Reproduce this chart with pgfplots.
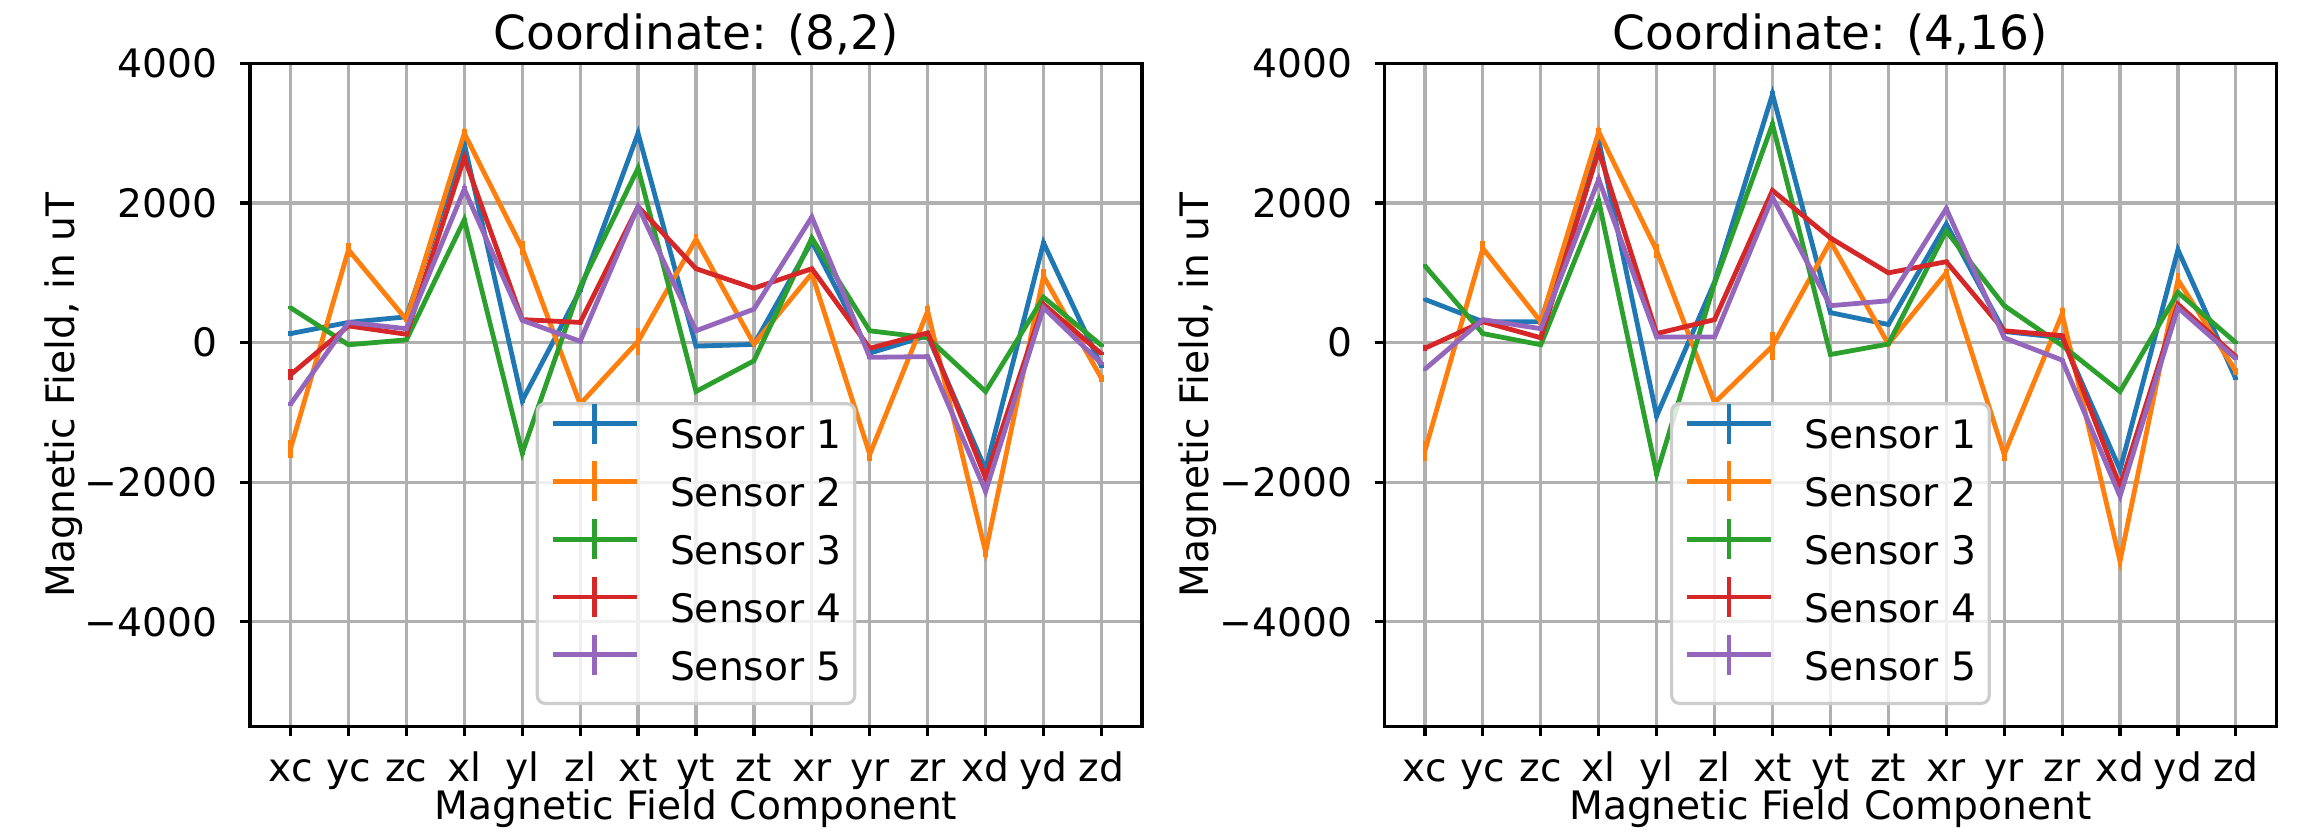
\documentclass[border=0pt]{standalone}
\usepackage{fontspec}
\setmainfont{DejaVu Sans}
\usepackage{pgfplots}
\usepackage{pgfplotstable}
\pgfplotsset{compat=1.18}
\definecolor{c1}{HTML}{1F77B4}
\definecolor{c2}{HTML}{FF7F0E}
\definecolor{c3}{HTML}{2CA02C}
\definecolor{c4}{HTML}{D62728}
\definecolor{c5}{HTML}{9467BD}
\definecolor{gridgray}{HTML}{B0B0B0}
\definecolor{legframe}{HTML}{CCCCCC}

% x: component index, sN: field of sensor N, eN: its error
\pgfplotstableread{
x s1 e1 s2 e2 s3 e3 s4 e4 s5 e5
0 130 40 -1520 130 500 20 -460 80 -880 30
1 290 20 1330 100 -30 20 240 20 290 20
2 370 20 330 40 40 20 120 20 200 20
3 2850 40 3000 60 1760 30 2650 40 2200 40
4 -830 30 1350 100 -1580 30 330 20 320 20
5 750 20 -880 50 800 20 290 20 20 20
6 3000 40 20 190 2500 30 1950 20 1950 20
7 -50 20 1480 80 -700 20 1060 20 170 20
8 -25 20 -20 30 -260 20 780 20 480 20
9 1450 20 990 60 1500 20 1060 20 1800 20
10 -150 20 -1600 100 170 20 -80 20 -210 20
11 100 20 450 80 70 20 140 20 -200 20
12 -1820 30 -3000 70 -700 20 -1940 30 -2130 30
13 1430 30 950 100 650 20 550 20 500 20
14 -340 20 -510 50 -40 20 -160 20 -300 20
}\coordA

\pgfplotstableread{
x s1 e1 s2 e2 s3 e3 s4 e4 s5 e5
0 620 20 -1550 140 1100 20 -80 40 -380 20
1 300 20 1350 100 130 20 300 20 330 20
2 300 20 300 40 -30 20 70 20 200 20
3 2900 40 3020 60 2030 30 2750 40 2340 40
4 -1050 30 1320 100 -1880 30 130 20 80 20
5 870 20 -860 50 850 20 330 20 80 20
6 3560 40 -50 200 3130 30 2180 20 2080 20
7 430 20 1450 80 -170 20 1500 20 530 20
8 260 20 -20 30 -20 20 1000 20 600 20
9 1700 20 1000 60 1600 20 1160 20 1920 20
10 160 20 -1600 100 530 20 170 20 70 20
11 70 20 410 80 -40 20 100 20 -250 20
12 -1820 30 -3130 70 -700 20 -2060 30 -2200 30
13 1330 30 900 100 720 20 550 20 500 20
14 -520 20 -410 50 0 20 -200 20 -230 20
}\coordB

\pgfplotsset{
  sens/.style={color=#1, line width=1.2pt, mark=none,
    /pgfplots/error bars/y dir=both,
    /pgfplots/error bars/y explicit,
    /pgfplots/error bars/error mark=none,
    /pgfplots/error bars/error bar style={line width=1.2pt}},
  magaxis/.style={
    scale only axis, width=223pt, height=165.75pt,
    xmin=-0.7, xmax=14.7, ymin=-5500, ymax=4000,
    xtick={0,...,14},
    xticklabels={xc,yc,zc,xl,yl,zl,xt,yt,zt,xr,yr,zr,xd,yd,zd},
    ytick={-4000,-2000,0,2000,4000},
    yticklabels={−4000,−2000,0,2000,4000},
    xtick pos=left, ytick pos=left,
    tick align=outside, major tick length=2.4pt,
    tick style={line width=0.8pt, color=black},
    axis line style={line width=0.8pt},
    grid=major, major grid style={color=gridgray, line width=0.8pt},
    font=\fontsize{9.8}{11.8}\selectfont,
    tick label style={inner sep=0pt},
    xticklabel style={anchor=base, yshift=-11.3pt},
    yticklabel style={anchor=east, xshift=-5.5pt},
    xlabel={Magnetic Field Component},
    ylabel={Magnetic Field, in uT},
    xlabel style={at={(axis description cs:0.5,-0.141)}, anchor=base, inner sep=0pt},
    ylabel style={at={(axis description cs:-0.1973,0.5)}, anchor=base, inner sep=0pt},
    every axis title shift=0pt,
    title style={at={(axis description cs:0.5,1.0214)}, anchor=base, inner sep=0pt,
      yshift=0pt, font=\fontsize{11.76}{14}\selectfont},
    legend image code/.code={
      \draw[##1] (0pt,3.57pt) -- (21pt,3.57pt);
      \draw[##1, overlay] (10.5pt,-1.43pt) -- (10.5pt,8.57pt);
    },
    legend style={at={(0.5,0.0324)}, anchor=south,
      fill=white, fill opacity=0.8, text opacity=1,
      draw=legframe, line width=0.8pt, rounded corners=2pt,
      inner xsep=3.25pt, inner ysep=3.82pt,
      row sep=4.95pt, column sep=7.75pt,
      nodes={inner sep=0pt, text height=7.5pt, text depth=2pt},
      font=\fontsize{9.8}{11.8}\selectfont},
    legend cell align=left,
  },
}

\begin{document}
\begin{tikzpicture}
\path[use as bounding box] (0,0) rectangle (575pt,208.25pt);

\begin{axis}[magaxis, at={(62.5pt,26.625pt)}, anchor=south west,
  title={Coordinate: (8,2)}]
\addplot[sens=c1] table[x=x, y=s1, y error=e1] {\coordA};
\addlegendentry{Sensor 1}
\addplot[sens=c2] table[x=x, y=s2, y error=e2] {\coordA};
\addlegendentry{Sensor 2}
\addplot[sens=c3] table[x=x, y=s3, y error=e3] {\coordA};
\addlegendentry{Sensor 3}
\addplot[sens=c4] table[x=x, y=s4, y error=e4] {\coordA};
\addlegendentry{Sensor 4}
\addplot[sens=c5] table[x=x, y=s5, y error=e5] {\coordA};
\addlegendentry{Sensor 5}
\end{axis}

\begin{axis}[magaxis, at={(346.1pt,26.625pt)}, anchor=south west,
  title={Coordinate: (4,16)}]
\addplot[sens=c1] table[x=x, y=s1, y error=e1] {\coordB};
\addlegendentry{Sensor 1}
\addplot[sens=c2] table[x=x, y=s2, y error=e2] {\coordB};
\addlegendentry{Sensor 2}
\addplot[sens=c3] table[x=x, y=s3, y error=e3] {\coordB};
\addlegendentry{Sensor 3}
\addplot[sens=c4] table[x=x, y=s4, y error=e4] {\coordB};
\addlegendentry{Sensor 4}
\addplot[sens=c5] table[x=x, y=s5, y error=e5] {\coordB};
\addlegendentry{Sensor 5}
\end{axis}
\end{tikzpicture}
\end{document}
